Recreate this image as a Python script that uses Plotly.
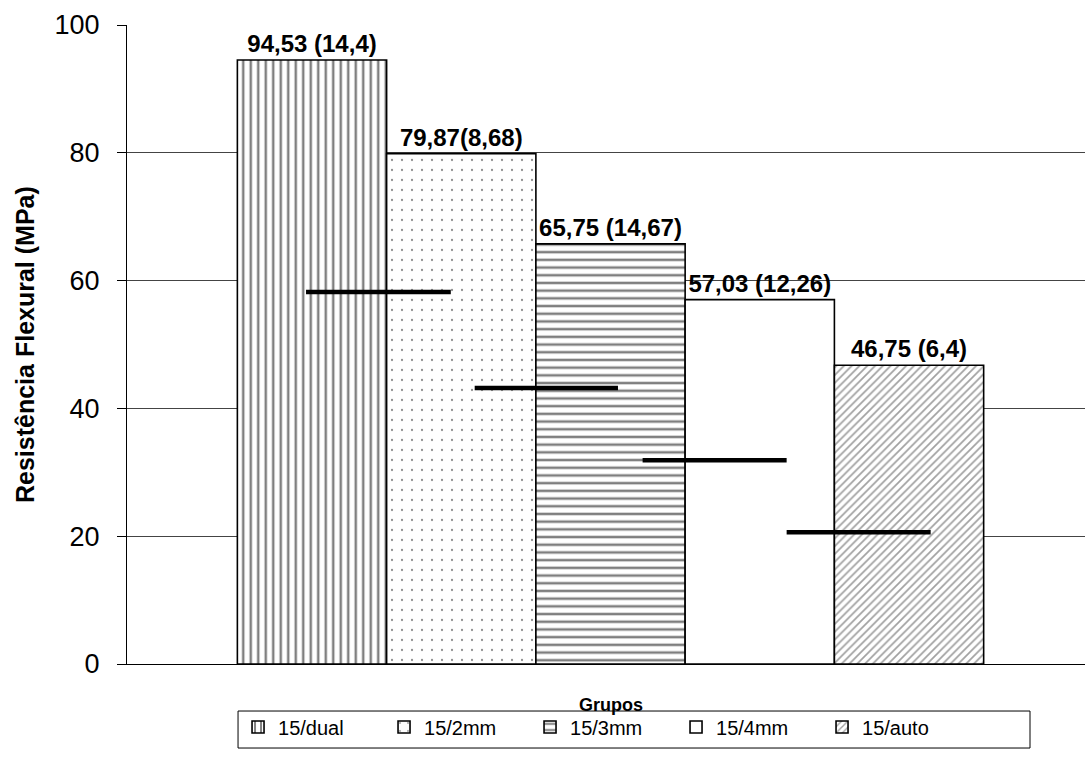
import plotly.graph_objects as go

# ---- data ----
groups = ["15/dual", "15/2mm", "15/3mm", "15/4mm", "15/auto"]
means = [94.53, 79.87, 65.75, 57.03, 46.75]
labels = ["94,53 (14,4)", "79,87(8,68)", "65,75 (14,67)", "57,03 (12,26)", "46,75 (6,4)"]
patterns = ["|", ".", "-", "", "/"]
pattern_sizes = [7.5, 10, 7.7, 8, 5.5]
pattern_solidity = [0.33, 0.04, 0.33, 0.3, 0.32]
pattern_colors = ["black", "#222222", "black", "black", "#444444"]

# horizontal reference segments (in group-index units and MPa)
seg_start = [-0.04, 1.09, 2.215, 3.18]
seg_end = [0.93, 2.05, 3.18, 4.145]
seg_y = [58.2, 43.2, 31.9, 20.6]

FONT = "Liberation Sans, Arial, sans-serif"

fig = go.Figure()
for i, g in enumerate(groups):
    fig.add_trace(go.Bar(
        x=[i], y=[means[i]], name=g, width=1,
        text=[labels[i]], textposition="outside", cliponaxis=False,
        constraintext="none",
        textfont=dict(family=FONT, size=24, color="black", weight="bold"),
        marker=dict(
            color="white",
            line=dict(color="black", width=1.6),
            pattern=dict(shape=patterns[i], size=pattern_sizes[i],
                         solidity=pattern_solidity[i], fgcolor=pattern_colors[i],
                         bgcolor="white", fillmode="overlay"),
        ),
    ))

sx, sy = [], []
for a, b, yv in zip(seg_start, seg_end, seg_y):
    sx += [a, b, None]
    sy += [yv, yv, None]
fig.add_trace(go.Scatter(x=sx, y=sy, mode="lines", line=dict(color="black", width=4.5),
                         showlegend=False, hoverinfo="skip"))

fig.update_layout(
    width=1085, height=765,
    margin=dict(l=127, r=0, t=25, b=101, autoexpand=False),
    paper_bgcolor="white", plot_bgcolor="white",
    barmode="overlay",
    font=dict(family=FONT, color="black"),
    showlegend=True,
    legend=dict(orientation="h", x=0.1159, y=-0.068, xanchor="left", yanchor="top",
                borderwidth=0, bgcolor="rgba(0,0,0,0)",
                font=dict(size=20, family=FONT), entrywidth=101, entrywidthmode="pixels",
                itemwidth=30, traceorder="normal"),
    xaxis=dict(range=[-1.2395, 5.179], showticklabels=False, ticks="", showgrid=False,
               zeroline=False, showline=True, linecolor="black", linewidth=1),
    yaxis=dict(range=[0, 100], tickvals=[0, 20, 40, 60, 80, 100], ticks="outside",
               ticklen=9, tickcolor="black", showline=True, linecolor="black", linewidth=1,
               showgrid=True, gridcolor="#444444", gridwidth=1, zeroline=False,
               ticklabelstandoff=12,
               tickfont=dict(size=27, family=FONT)),
    shapes=[
        dict(type="rect", xref="paper", yref="paper", x0=0.1159, x1=0.9426,
             y0=-0.0736, y1=-0.1315, line=dict(color="black", width=1),
             fillcolor="rgba(0,0,0,0)", layer="below"),
    ],
    annotations=[
        dict(text="<b>Resistência Flexural (MPa)</b>", xref="paper", yref="paper",
             x=-0.107, y=0.5, textangle=-90, showarrow=False,
             font=dict(size=25, family=FONT), xanchor="center", yanchor="middle"),
        dict(text="<b>Grupos</b>", xref="x", yref="paper", x=2, y=-0.0637,
             showarrow=False, font=dict(size=18, family=FONT),
             xanchor="center", yanchor="middle"),
    ],
)

fig.write_html("out.html", config={"displayModeBar": False},
               post_script="document.body.style.margin='0';document.body.style.padding='0';")
